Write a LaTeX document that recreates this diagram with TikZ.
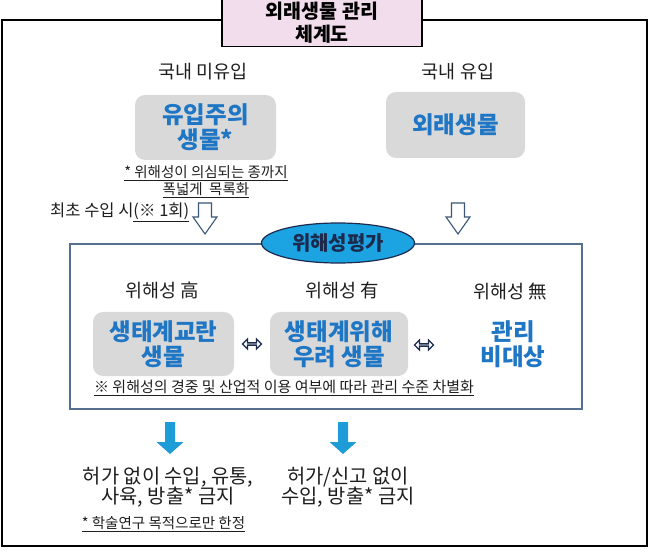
\documentclass[tikz,border=0pt]{standalone}
\usepackage{fontspec}
\setmainfont{Noto Sans CJK KR}
\usetikzlibrary{shapes.geometric,shapes.arrows,calc}
\definecolor{ttlpink}{RGB}{242,221,236}
\definecolor{boxgray}{RGB}{217,217,217}
\definecolor{kblue}{RGB}{30,118,196}
\definecolor{ellblue}{RGB}{27,163,226}
\definecolor{navy}{RGB}{28,42,78}
\definecolor{frameblue}{RGB}{84,112,142}
\definecolor{arrblue}{RGB}{30,156,216}
\definecolor{hollowc}{RGB}{58,86,120}
\definecolor{txt}{RGB}{30,30,30}
\begin{document}
\begin{tikzpicture}[x=1pt,y=-1pt,
  graybox/.style={fill=boxgray,rounded corners=10pt,inner sep=0pt,align=center,
    text=kblue,font=\fontsize{23.5}{25}\selectfont\bfseries},
  bluetxt/.style={inner sep=0pt,align=center,text=kblue,font=\fontsize{23.5}{25}\selectfont\bfseries},
  lbl/.style={inner sep=0pt,text=txt,font=\fontsize{18.5}{20}\selectfont},
  notetxt/.style={inner sep=0pt,text=txt,align=center,font=\fontsize{14.5}{17}\selectfont},
  outtxt/.style={inner sep=0pt,align=center,text=txt,font=\fontsize{19.8}{20.5}\selectfont},
  hollowdown/.pic={\draw[draw=hollowc,fill=white,line width=1.1pt,line join=miter]
    (-6.5,0) -- (6.5,0) -- (6.5,14) -- (12,14) -- (0,31) -- (-12,14) -- (-6.5,14) -- cycle;},
  bluedown/.pic={\fill[arrblue]
    (-5,0) -- (5,0) -- (5,20) -- (13.5,20) -- (0,32) -- (-13.5,20) -- (-5,20) -- cycle;},
  dblarrow/.style={double arrow,draw=navy,fill=white,line width=1.3pt,inner sep=0pt,
    minimum height=19pt,minimum width=10pt,double arrow head extend=2.3pt}]
\useasboundingbox (0,0) rectangle (656,553);
% outer frame
\draw[line width=1.2pt,black] (2,20) rectangle (647,546);
% title
\node[draw=black,line width=1.1pt,fill=ttlpink,minimum width=200pt,minimum height=48pt,inner sep=0pt,
  align=center,font=\fontsize{19.5}{23}\selectfont\bfseries,text=black] (title) at (322,22.5) {외래생물 관리\\체계도};
% top labels
\node[lbl] (lblA) at (203,72) {국내 미유입};
\node[lbl] (lblB) at (458,72) {국내 유입};
\node[graybox,minimum width=141pt,minimum height=65pt] (boxA) at (205.5,127.5) {유입주의\\생물*};
\node[graybox,minimum width=139pt,minimum height=66pt] (boxB) at (455.5,125) {외래생물};
\node[notetxt] (noteA) at (206,181.5) {\underline{* 위해성이 의심되는 종까지}\\\underline{폭넓게 \ 목록화}};
% first import label
\node[inner sep=0pt,anchor=west,text=txt,font=\fontsize{16.5}{18}\selectfont] (first) at (50,212) {최초 수입 시\underline{(※ 1회)}};
\coordinate (hA) at (205,203);
\coordinate (hB) at (458,203);
\pic at (hA) {hollowdown};
\pic at (hB) {hollowdown};
% inner frame
\draw[draw=frameblue,line width=1.6pt] (70,244) rectangle (582,409);
\node[ellipse,draw=navy,line width=1.2pt,fill=ellblue,minimum width=153pt,minimum height=40pt,inner sep=0pt,
  text=navy,font=\fontsize{20}{20}\selectfont\bfseries] (eval) at (338,243) {위해성평가};
% levels
\node[lbl] (lvA) at (162,290) {위해성 高};
\node[lbl] (lvB) at (342,290) {위해성 有};
\node[lbl] (lvC) at (510,291) {위해성 無};
\node[graybox,minimum width=141pt,minimum height=64pt] (boxC) at (163.5,344) {생태계교란\\생물};
\node[graybox,minimum width=138pt,minimum height=64pt] (boxD) at (339,344) {생태계위해\\우려 생물};
\node[bluetxt] (boxE) at (513,344) {관리\\비대상};
\node[dblarrow] (dA) at ($(boxC.east)!0.5!(boxD.west)$) {};
\node[dblarrow] (dB) at (424,345) {};
\node[notetxt,font=\fontsize{15}{16}\selectfont] (noteB) at (284,388) {\underline{※ 위해성의 경중 및 산업적 이용 여부에 따라 관리 수준 차별화}};
% outcomes
\coordinate (bA) at (170,422);
\coordinate (bB) at (343,422);
\pic at (bA) {bluedown};
\pic at (bB) {bluedown};
\node[outtxt] (outA) at (168,487) {허가 없이 수입, 유통,\\사육, 방출* 금지};
\node[outtxt] (outB) at (348,487) {허가/신고 없이\\수입, 방출* 금지};
\node[notetxt] (noteC) at (163.5,524) {\underline{* 학술연구 목적으로만 한정}};
\end{tikzpicture}
\end{document}
